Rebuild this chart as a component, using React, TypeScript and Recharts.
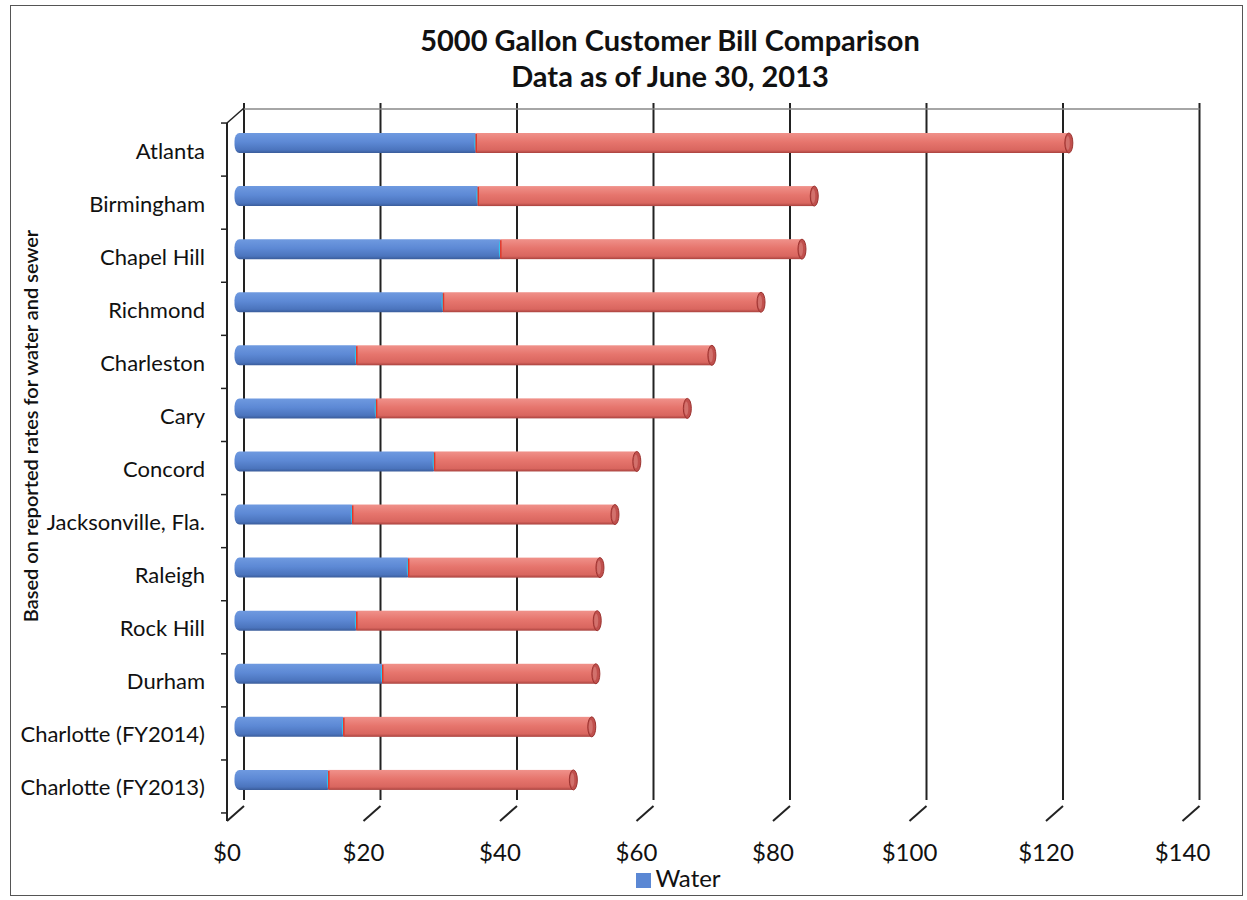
import { BarChart, Bar, XAxis, YAxis, Legend, CartesianGrid } from "recharts";

const cities = [
  "Atlanta",
  "Birmingham",
  "Chapel Hill",
  "Richmond",
  "Charleston",
  "Cary",
  "Concord",
  "Jacksonville, Fla.",
  "Raleigh",
  "Rock Hill",
  "Durham",
  "Charlotte (FY2014)",
  "Charlotte (FY2013)",
];
const water = [35.2, 35.5, 38.8, 30.4, 17.7, 20.6, 29.1, 17.1, 25.3, 17.7, 21.5, 15.8, 13.6];
const sewer = [86.9, 49.3, 44.2, 46.6, 52.1, 45.6, 29.7, 38.5, 28.1, 35.3, 31.3, 36.4, 35.9];
const xTicks = [0, 20, 40, 60, 80, 100, 120, 140];

const data = cities.map((name, i) => ({ name, water: water[i], sewer: sewer[i] }));

const FONT = "Lato, 'Open Sans', sans-serif";
const W = 1247;
const H = 900;
const TOP = 116;
const LEFT = 235.5;
const RIGHT = 1191;
const D = 8.5; // half depth of the 3D box
const STEP = (RIGHT - LEFT) / (xTicks.length - 1);
const BAND = 53;

// back-wall grid lines, taken from the x scale and pushed back by the depth
const gridX = ({ xAxis, offset }: any) =>
  xTicks.map((t, i) =>
    xAxis && typeof xAxis.scale === "function" ? xAxis.scale(t) + D : offset.left + i * STEP + D
  );

const XTick = (props: any) => {
  const { x, y, payload, index } = props;
  const isLast = index === xTicks.length - 1;
  return (
    <g>
      <line x1={x + D} y1={y - 8} x2={x - D} y2={y + 7} stroke="#222" strokeWidth={2} />
      {!isLast && (
        <line x1={x + D} y1={TOP - 7} x2={x + D + STEP} y2={TOP - 7} stroke="#888" strokeWidth={1.5} />
      )}
      {index === 0 && (
        <g>
          <line x1={x - D} y1={TOP + 7} x2={x - D} y2={y + 7} stroke="#222" strokeWidth={2} />
          <line x1={x - D} y1={TOP + 7} x2={x + D} y2={TOP - 8} stroke="#222" strokeWidth={1.5} />
        </g>
      )}
      <text x={x - D} y={y + 47} textAnchor="middle" fontSize={24} fontFamily={FONT} fill="#111">
        {`$${payload.value}`}
      </text>
    </g>
  );
};

const YTick = (props: any) => {
  const { y, payload, index } = props;
  const ax = LEFT - D;
  return (
    <g>
      <line x1={ax - 6} y1={y - BAND / 2 + 7} x2={ax} y2={y - BAND / 2 + 7} stroke="#222" strokeWidth={1.5} />
      {index === cities.length - 1 && (
        <line x1={ax - 6} y1={y + BAND / 2 + 7} x2={ax} y2={y + BAND / 2 + 7} stroke="#222" strokeWidth={1.5} />
      )}
      <text x={205} y={y + 16} textAnchor="end" fontSize={22} fontFamily={FONT} fill="#111">
        {payload.value}
      </text>
    </g>
  );
};

const WaterShape = (props: any) => {
  const { x, y, width, height } = props;
  return (
    <g>
      <rect x={x - 1} y={y} width={width + 5} height={height} rx={5} ry={8} fill="url(#gWater)" />
      <ellipse cx={x + width} cy={y + height / 2} rx={1.5} ry={height / 2 - 1} fill="#2ec4f0" />
    </g>
  );
};

const SewerShape = (props: any) => {
  const { x, y, width, height } = props;
  return (
    <g>
      <rect x={x} y={y} width={width} height={height} fill="url(#gSewer)" />
      <line x1={x + 0.5} y1={y + 1} x2={x + 0.5} y2={y + height - 1} stroke="#e2382a" strokeWidth={1.5} />
      <ellipse cx={x + width} cy={y + height / 2} rx={4} ry={height / 2} fill="#c0504d" stroke="#9c3330" strokeWidth={1} />
      <ellipse cx={x + width - 1} cy={y + height / 2} rx={2} ry={height / 2 - 3} fill="#d2716c" />
    </g>
  );
};

export default function App() {
  return (
    <div style={{ position: "absolute", left: 0, top: 0, width: W, height: H, background: "#fff" }}>
      <style>{`body{margin:0}`}</style>
      <div
        style={{
          position: "absolute",
          left: 10,
          top: 5,
          width: 1233,
          height: 891,
          border: "1.5px solid #555",
          boxSizing: "border-box",
        }}
      />
      <div
        style={{
          position: "absolute",
          left: 170,
          top: 22,
          width: 1000,
          textAlign: "center",
          fontFamily: FONT,
          fontWeight: 700,
          fontSize: 29,
          lineHeight: "36px",
          color: "#111",
        }}
      >
        <div>5000 Gallon Customer Bill Comparison</div>
        <div>Data as of June 30, 2013</div>
      </div>
      <div
        style={{
          position: "absolute",
          left: 30,
          top: 426,
          transform: "translate(-50%, -50%) rotate(-90deg)",
          whiteSpace: "nowrap",
          fontFamily: FONT,
          fontWeight: 600,
          fontSize: 20,
          color: "#111",
        }}
      >
        Based on reported rates for water and sewer
      </div>
      <div style={{ position: "absolute", left: 0, top: 0 }}>
        <BarChart
          width={W}
          height={H}
          data={data}
          layout="vertical"
          margin={{ top: TOP, right: W - RIGHT, bottom: 5, left: LEFT - 60 }}
          barSize={20}
        >
          <defs>
            <linearGradient id="gWater" x1="0" y1="0" x2="0" y2="1">
              <stop offset="0%" stopColor="#6f9ae0" />
              <stop offset="45%" stopColor="#5d89d5" />
              <stop offset="85%" stopColor="#4b74bd" />
              <stop offset="100%" stopColor="#3a5c9a" />
            </linearGradient>
            <linearGradient id="gSewer" x1="0" y1="0" x2="0" y2="1">
              <stop offset="0%" stopColor="#f0918a" />
              <stop offset="45%" stopColor="#e6756d" />
              <stop offset="85%" stopColor="#d9665f" />
              <stop offset="100%" stopColor="#a9423e" />
            </linearGradient>
          </defs>
          <CartesianGrid
            horizontal={false}
            y={TOP - 13}
            height={BAND * cities.length + 8}
            verticalCoordinatesGenerator={gridX}
            stroke="#222"
            strokeWidth={2}
          />
          <XAxis
            type="number"
            domain={[0, 140]}
            ticks={xTicks}
            axisLine={false}
            tickLine={false}
            tick={<XTick />}
            height={60}
            interval={0}
          />
          <YAxis
            type="category"
            dataKey="name"
            width={60}
            axisLine={false}
            tickLine={false}
            tick={<YTick />}
            interval={0}
          />
          <Legend
            verticalAlign="bottom"
            iconType="square"
            iconSize={15}
            formatter={(v: string) => <span style={{ color: "#111" }}>{v}</span>}
            wrapperStyle={{ left: 606, width: 155, top: 863, bottom: "auto", fontSize: 24, fontFamily: FONT }}
          />
          <Bar dataKey="water" name="Water" stackId="a" fill="#5b88d4" shape={<WaterShape />} isAnimationActive={false} />
          <Bar dataKey="sewer" name="Sewer" stackId="a" fill="#e6756d" legendType="none" shape={<SewerShape />} isAnimationActive={false} />
        </BarChart>
      </div>
    </div>
  );
}
